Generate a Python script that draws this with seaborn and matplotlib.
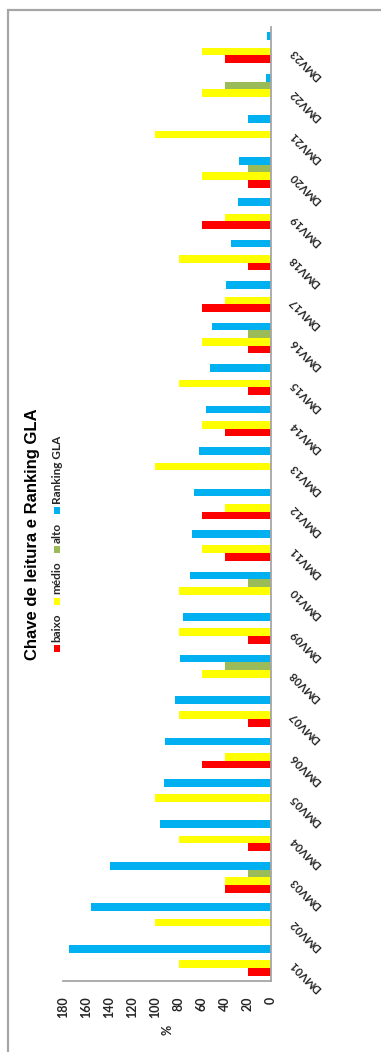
import matplotlib
matplotlib.use("Agg")
import matplotlib.pyplot as plt
import seaborn as sns
import pandas as pd
from matplotlib.patches import Rectangle
from matplotlib.transforms import ScaledTranslation

categories = ["DMV01", "DMV02", "DMV03", "DMV04", "DMV05", "DMV06", "DMV07", "DMV08",
              "DMV09", "DMV10", "DMV11", "DMV12", "DMV13", "DMV14", "DMV15", "DMV16",
              "DMV17", "DMV18", "DMV19", "DMV20", "DMV21", "DMV22", "DMV23"]
baixo = [20, 0, 40, 20, 0, 60, 20, 0, 20, 0, 40, 60, 0, 40, 20, 20, 60, 20, 60, 20, 0, 0, 40]
medio = [80, 100, 40, 80, 100, 40, 80, 60, 80, 80, 60, 40, 100, 60, 80, 60, 40, 80, 40, 60, 100, 60, 60]
alto = [0, 0, 20, 0, 0, 0, 0, 40, 0, 20, 0, 0, 0, 0, 0, 20, 0, 0, 0, 20, 0, 40, 0]
ranking = [175, 156, 139, 96, 93, 92, 83, 79, 76, 70, 68, 67, 62.5, 56, 53, 51, 39, 35, 28.5, 28, 20, 4.3, 3.5]
series_names = ["baixo", "médio", "alto", "Ranking GLA"]
series_colors = ["#FF0000", "#FFFF00", "#9BBB59", "#00B0F0"]
value_ticks = [0, 20, 40, 60, 80, 100, 120, 140, 160, 180]
title = "Chave de leitura e Ranking GLA"

rows = []
for name, vals in zip(series_names, [baixo, medio, alto, ranking]):
    for c, v in zip(categories, vals):
        rows.append({"cat": c, "serie": name, "valor": v})
df = pd.DataFrame(rows)

sns.set_style("white")
FONT = ["Lato", "DejaVu Sans"]
plt.rcParams["font.family"] = FONT

W, H = 381, 1052
fig = plt.figure(figsize=(W / 100, H / 100), dpi=100)
fig.patch.set_facecolor("white")

# chart border (Excel chart area)
fig.add_artist(Rectangle((8 / W, -0.05), 1.2, 1 - 10 / H + 0.05, transform=fig.transFigure,
                         fill=False, edgecolor="#A6A6A6", linewidth=1.6))

ax_l, ax_r, ax_t, ax_b = 63, 271, 27, 981
ax = fig.add_axes([ax_l / W, 1 - ax_b / H, (ax_r - ax_l) / W, (ax_b - ax_t) / H])

sns.barplot(data=df, y="cat", x="valor", hue="serie", orient="h", order=categories,
            hue_order=series_names, palette=dict(zip(series_names, series_colors)),
            width=0.74, dodge=True, saturation=1, legend=False, ax=ax, edgecolor="none")

ax.set_ylim(-0.5, len(categories) - 0.5)
ax.set_xlim(180, 0)
ax.set_facecolor("white")
for s in ["top", "left"]:
    ax.spines[s].set_visible(False)
for s in ["right", "bottom"]:
    ax.spines[s].set_visible(True)
    ax.spines[s].set_color("#A6A6A6")
    ax.spines[s].set_linewidth(1.3)
ax.grid(False)

ax.yaxis.tick_right()
ax.set_yticks(range(len(categories)))
ax.set_yticklabels(categories, rotation=135, rotation_mode="anchor", ha="right", va="center",
                   fontsize=8, fontweight="bold", color="#262626")
ax.tick_params(axis="y", length=0, pad=14.5)
off = ScaledTranslation(0, -2.5 / 100, fig.dpi_scale_trans)
for lab in ax.get_yticklabels():
    lab.set_transform(lab.get_transform() + off)

ax.set_xticks(value_ticks)
ax.set_xticklabels([str(v) for v in value_ticks], rotation=90, fontsize=9, fontweight="bold",
                   color="#262626")
ax.tick_params(axis="x", length=0, pad=11)
ax.set_xlabel("%", rotation=90, fontsize=9, fontweight="bold", color="#262626", va="center")
ax.xaxis.set_label_coords(0.5, -0.051)
ax.set_ylabel("")

fig.text(33 / W, 1 - 534 / H, title, rotation=90, ha="center", va="center",
         fontsize=12, fontweight="bold", color="black",
         family=["Liberation Sans", "DejaVu Sans"])

# legend, drawn rotated (reads bottom to top)
fig.canvas.draw()
renderer = fig.canvas.get_renderer()
leg_x = 57
y = 652.0
sq = 7
for name, col in zip(series_names, series_colors):
    fig.add_artist(Rectangle(((leg_x - sq / 2) / W, 1 - y / H), sq / W, sq / H,
                             transform=fig.transFigure, facecolor=col, edgecolor="none"))
    y -= sq + 3
    t = fig.text(leg_x / W, 1 - y / H, name, rotation=90, ha="center", va="bottom",
                 fontsize=8.5, fontweight="bold", color="#262626")
    bb = t.get_window_extent(renderer)
    y -= bb.height + 9

fig.savefig("out.png", dpi=100, facecolor="white")
